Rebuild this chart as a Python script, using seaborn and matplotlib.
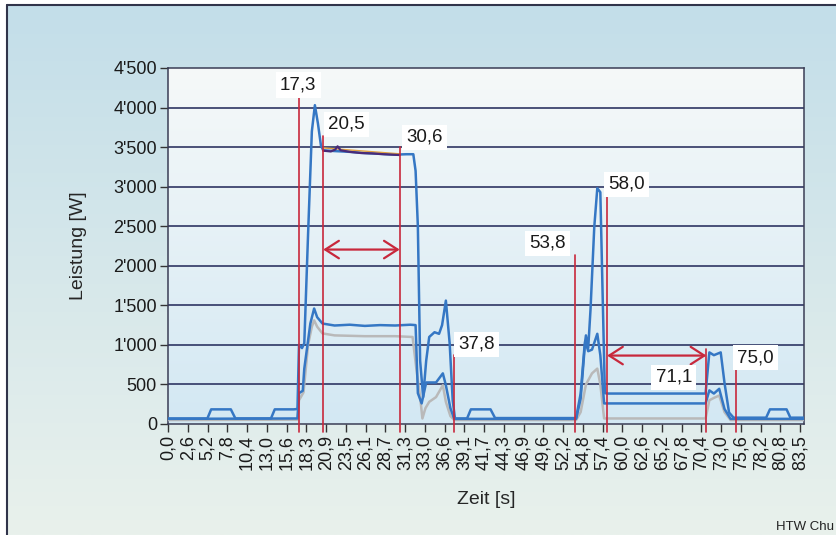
import numpy as np
import pandas as pd
import matplotlib
matplotlib.use("Agg")
import matplotlib.pyplot as plt
from matplotlib.lines import Line2D
import seaborn as sns

# total power (top blue curve)
t_total = [0, 5.2, 5.7, 8.3, 8.9, 13.6, 14.1, 16.6, 17.1, 17.3, 17.7, 18.0, 18.5, 19.0, 19.4, 19.8,
           20.2, 20.5, 22, 24, 26, 28, 30, 31.5, 32.4, 32.7, 33.0, 33.3, 33.7, 34.1, 34.5, 35.2, 35.8,
           36.2, 36.7, 37.2, 37.6, 37.9, 39.5, 40.0, 42.6, 43.2, 53.9, 54.5, 55.0, 55.2, 55.5, 55.8,
           56.3, 56.7, 57.1, 57.4, 57.7, 58.0, 71.0, 71.5, 72.1, 73.0, 73.5, 74.1, 74.7, 79.0, 79.5,
           81.7, 82.2, 84.0]
p_total = [70, 70, 185, 185, 70, 70, 185, 185, 190, 1000, 960, 1020, 2400, 3700, 4030, 3800,
           3520, 3460, 3450, 3440, 3425, 3415, 3405, 3410, 3410, 3200, 2500, 800, 340, 800, 1100,
           1160, 1140, 1250, 1560, 1020, 300, 70, 70, 185, 185, 75, 75, 385, 970, 1120, 960, 1440,
           2490, 2980, 2930, 1650, 390, 385, 385, 905, 870, 905, 520, 145, 80, 80, 185,
           185, 80, 80]

# second curve (middle blue)
t_mid = [0, 17.1, 17.3, 17.8, 18.0, 18.8, 19.3, 19.7, 20.4, 22, 24, 26, 28, 30, 32, 32.7, 33.0,
         33.5, 34.1, 35.4, 36.3, 36.7, 37.3, 37.8, 53.9, 54.5, 55.1, 55.5, 56.0, 56.7, 57.1, 57.6,
         71.0, 71.5, 72.1, 72.8, 73.5, 74.3, 84.0]
p_mid = [65, 70, 390, 420, 700, 1270, 1460, 1350, 1270, 1245, 1255, 1240, 1250, 1245, 1255, 1250,
         390, 260, 525, 525, 640, 490, 200, 65, 65, 320, 1050, 920, 940, 1140, 870, 260,
         260, 425, 385, 445, 190, 65, 65]

# third curve (grey)
t_grey = [0, 17.1, 17.3, 17.9, 18.5, 19.0, 19.3, 19.7, 20.4, 22, 26, 30, 32.3, 32.8, 33.3, 33.6,
          34.0, 34.5, 35.4, 36.3, 36.7, 37.3, 37.8, 53.9, 54.5, 55.2, 56.0, 56.7, 57.1, 57.6,
          71.0, 71.5, 72.1, 72.8, 73.5, 74.3, 84.0]
p_grey = [50, 55, 300, 400, 1000, 1230, 1310, 1230, 1145, 1120, 1110, 1110, 1100, 700, 340, 70,
          200, 280, 340, 490, 280, 100, 50, 50, 150, 500, 640, 700, 500, 70,
          70, 300, 330, 360, 150, 50, 50]

# plateau overlay
t_plat = [20.5, 21.5, 22.1, 22.4, 22.8, 24.0, 25.5, 27.0, 28.5, 30.6]
p_plat = [3455, 3445, 3470, 3510, 3460, 3440, 3425, 3420, 3410, 3400]
t_fit = [20.5, 30.6]
p_fit = [3490, 3415]

# marked times
marks = [17.3, 20.5, 30.6, 37.8, 53.8, 58.0, 71.1, 75.0]
mark_tops = [4180, 3640, 3500, 870, 2130, 2950, 950, 715]
mark_labels = ["17,3", "20,5", "30,6", "37,8", "53,8", "58,0", "71,1", "75,0"]

tick_labels = ["0,0", "2,6", "5,2", "7,8", "10,4", "13,0", "15,6", "18,3", "20,9", "23,5", "26,1",
               "28,7", "31,3", "33,0", "36,6", "39,1", "41,7", "44,3", "46,9", "49,6", "52,2",
               "54,8", "57,4", "60,0", "62,6", "65,2", "67,8", "70,4", "73,0", "75,6", "78,2",
               "80,8", "83,5"]
y_ticks = [0, 500, 1000, 1500, 2000, 2500, 3000, 3500, 4000, 4500]

sns.set_style("ticks")
plt.rcParams['font.family'] = ['Liberation Sans', 'DejaVu Sans']

blue = '#3577c4'
grey = '#b9b9b9'
red = '#c8283c'
navy = '#2e3563'

fig = plt.figure(figsize=(8.37, 5.35), dpi=100)
fig.patch.set_facecolor('white')

# outer scanned background
bg = fig.add_axes([7 / 837, 0, 1 - 7 / 837, 1 - 5 / 535], zorder=-10)
grad = np.linspace(0, 1, 256).reshape(-1, 1)
bg_cmap = matplotlib.colors.LinearSegmentedColormap.from_list('bg', ['#c3dee9', '#e9f1ec'])
bg.imshow(grad, aspect='auto', cmap=bg_cmap, extent=[0, 1, 0, 1], origin='upper')
bg.axis('off')
fig.add_artist(Line2D([7 / 837, 1], [1 - 5 / 535, 1 - 5 / 535], color='#30344a', lw=1.5))
fig.add_artist(Line2D([7 / 837, 7 / 837], [0, 1 - 5 / 535], color='#30344a', lw=1.5))

ax = fig.add_axes([168 / 837, 1 - 424 / 535, (804 - 168) / 837, (424 - 68) / 535])
ax_cmap = matplotlib.colors.LinearSegmentedColormap.from_list('ax', ['#f6f9f9', '#d3e8f3'])
ax.imshow(grad, aspect='auto', cmap=ax_cmap, extent=[0, 84.0, 0, 4500], origin='upper', zorder=0)

for v in y_ticks[1:-1]:
    ax.axhline(v, color=navy, lw=1.2, zorder=1)

sns.lineplot(x=t_grey, y=p_grey, color=grey, lw=1.8, estimator=None, sort=False, ax=ax, zorder=3)
sns.lineplot(x=t_mid, y=p_mid, color=blue, lw=1.8, estimator=None, sort=False, ax=ax, zorder=4)
sns.lineplot(x=t_total, y=p_total, color=blue, lw=1.8, estimator=None, sort=False, ax=ax, zorder=5)
sns.lineplot(x=t_fit, y=p_fit, color='#e0a040', lw=1.0, estimator=None, sort=False, ax=ax, zorder=6)
sns.lineplot(x=t_plat, y=p_plat, color='#4a2a78', lw=1.6, estimator=None, sort=False, ax=ax, zorder=6)

# red markers
for t, top in zip(marks, mark_tops):
    ax.plot([t, t], [-100, top], color=red, lw=1.2, zorder=7, clip_on=False)

arrow_style = '<->,head_length=0.7,head_width=0.45'
ax.annotate('', xy=(marks[2], 2205), xytext=(marks[1], 2205),
            arrowprops=dict(arrowstyle=arrow_style, color=red, lw=1.6, mutation_scale=14,
                            shrinkA=0, shrinkB=0), zorder=8)
ax.annotate('', xy=(marks[6], 865), xytext=(marks[5], 865),
            arrowprops=dict(arrowstyle=arrow_style, color=red, lw=1.6, mutation_scale=14,
                            shrinkA=0, shrinkB=0), zorder=8)

label_pos = [(17.2, 4285, 'center'), (21.15, 3790, 'left'), (31.45, 3625, 'left'),
             (38.3, 1005, 'left'), (47.7, 2285, 'left'), (58.1, 3030, 'left'),
             (64.4, 590, 'left'), (75.2, 840, 'left')]
for txt, (x, y, ha) in zip(mark_labels, label_pos):
    ax.text(x, y, txt, ha=ha, va='center', fontsize=13.5, color='#1a1a1a', zorder=9,
            bbox=dict(facecolor='white', edgecolor='none', pad=3))

ax.set_xlim(0, 84.0)
ax.set_ylim(0, 4500)
step = 83.5 / 32
ax.set_xticks([i * step for i in range(len(tick_labels))])
ax.set_xticklabels(tick_labels, rotation=90, fontsize=13, color='#1a1a1a')
ax.set_yticks(y_ticks)
ax.set_yticklabels([f"{v:,}".replace(',', "'") for v in y_ticks], fontsize=13, color='#1a1a1a')
ax.tick_params(axis='both', direction='out', length=6, width=1, color='#333333', pad=2)
for s in ax.spines.values():
    s.set_visible(True)
    s.set_color('#3a3d55')
    s.set_linewidth(1.1)

ax.set_xlabel('Zeit [s]', fontsize=14, labelpad=15)
ax.set_ylabel('Leistung [W]', fontsize=14, labelpad=19)

fig.text(776 / 837, 1 - 527 / 535, 'HTW Chu', fontsize=9.5, ha='left', va='center', color='#222222')

fig.savefig('out.png', dpi=100, facecolor=fig.get_facecolor())
